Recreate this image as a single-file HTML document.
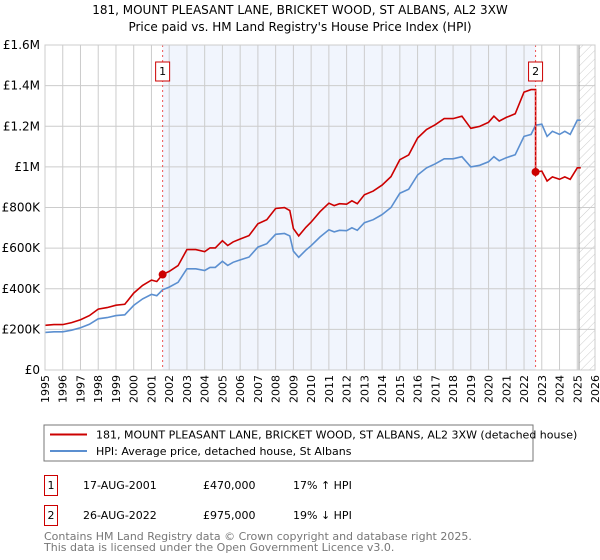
<!DOCTYPE html>
<html><head><meta charset="utf-8"><style>
body{margin:0;background:#fff;font-family:"DejaVu Sans","Liberation Sans",sans-serif;}
#wrap{position:relative;width:600px;height:560px;overflow:hidden;}
svg text{font-family:"DejaVu Sans","Liberation Sans",sans-serif;}
</style></head><body>
<div id="wrap">
<svg id="chart" width="600" height="560" viewBox="0 0 600 560">
<defs><pattern id="hatch" width="6" height="6" patternUnits="userSpaceOnUse" patternTransform="rotate(45)"><line x1="0" y1="0" x2="0" y2="6" stroke="#ccc" stroke-width="1"/></pattern></defs>
<text x="300" y="14" text-anchor="middle" font-size="12" fill="#000">181, MOUNT PLEASANT LANE, BRICKET WOOD, ST ALBANS, AL2 3XW</text>
<text x="300" y="31" text-anchor="middle" font-size="12" fill="#000">Price paid vs. HM Land Registry's House Price Index (HPI)</text>
<g id="plot"></g>
<rect x="44" y="425" width="489" height="36" fill="#fff" stroke="#777"/>
<line x1="50" y1="434.5" x2="87" y2="434.5" stroke="#cc0000" stroke-width="2"/>
<text x="96" y="438.5" font-size="11">181, MOUNT PLEASANT LANE, BRICKET WOOD, ST ALBANS, AL2 3XW (detached house)</text>
<line x1="50" y1="451" x2="87" y2="451" stroke="#5b8fd0" stroke-width="2"/>
<text x="96" y="455" font-size="11">HPI: Average price, detached house, St Albans</text>
<g>
<rect x="44.5" y="475.5" width="13" height="20" fill="#fff" stroke="#cc0000"/>
<text x="51" y="489" font-size="11" text-anchor="middle">1</text>
<text x="83" y="489" font-size="11">17-AUG-2001</text>
<text x="203" y="489" font-size="11">£470,000</text>
<text x="293" y="489" font-size="11">17% ↑ HPI</text></g>
<g>
<rect x="44.5" y="505.5" width="13" height="20" fill="#fff" stroke="#cc0000"/>
<text x="51" y="519" font-size="11" text-anchor="middle">2</text>
<text x="83" y="519" font-size="11">26-AUG-2022</text>
<text x="203" y="519" font-size="11">£975,000</text>
<text x="293" y="519" font-size="11">19% ↓ HPI</text></g>
<text x="44" y="540" font-size="11" fill="#777">Contains HM Land Registry data © Crown copyright and database right 2025.</text>
<text x="44" y="551" font-size="11" fill="#777">This data is licensed under the Open Government Licence v3.0.</text>
</svg></div>
<script>
const hpiYears=[1995,1995.5,1996,1996.5,1997,1997.5,1998,1998.5,1999,1999.5,2000,2000.5,2001,2001.3,2001.63,2002,2002.5,2003,2003.5,2004,2004.3,2004.6,2005,2005.3,2005.6,2006,2006.5,2007,2007.5,2008,2008.5,2008.8,2009,2009.3,2009.7,2010,2010.5,2011,2011.3,2011.6,2012,2012.3,2012.6,2013,2013.5,2014,2014.5,2015,2015.5,2016,2016.5,2017,2017.5,2018,2018.5,2019,2019.5,2020,2020.3,2020.6,2021,2021.5,2022,2022.4,2022.65,2023,2023.3,2023.6,2024,2024.3,2024.6,2025,2025.2];
const hpiValues=[185,188,188,196,208,225,252,258,268,272,318,350,372,366,395,408,432,498,498,490,505,505,535,515,530,542,556,605,622,668,672,660,585,555,590,612,655,690,680,688,686,700,688,725,740,765,800,870,890,960,995,1015,1040,1040,1050,1000,1008,1025,1050,1030,1045,1060,1150,1160,1205,1210,1150,1175,1160,1175,1160,1230,1230];
const saleYears=[2001.63,2022.65];
const saleValues=[470,975];
const yTicks=[0,200,400,600,800,1000,1200,1400,1600];
const yTickLabels=["£0","£200K","£400K","£600K","£800K","£1M","£1.2M","£1.4M","£1.6M"];
const xTicks=[1995,1996,1997,1998,1999,2000,2001,2002,2003,2004,2005,2006,2007,2008,2009,2010,2011,2012,2013,2014,2015,2016,2017,2018,2019,2020,2021,2022,2023,2024,2025,2026];
const X0=45,X1=595,Y0=370,Y1=45;
const xs=y=>X0+(y-1995)/(2026-1995)*(X1-X0);
const ys=v=>Y0-v/1600*(Y0-Y1);
const NS="http://www.w3.org/2000/svg";
const plot=document.getElementById('plot');
function mk(tag,attrs,parent){const e=document.createElementNS(NS,tag);for(const k in attrs)e.setAttribute(k,attrs[k]);(parent||plot).appendChild(e);return e;}
let r=mk('rect',{x:X0,y:Y1,width:X1-X0,height:Y0-Y1,fill:'#fff'});


r=mk('rect',{x:xs(saleYears[0]),y:Y1,width:xs(saleYears[1])-xs(saleYears[0]),height:Y0-Y1,fill:'#eef3fc',opacity:0.8});


r=mk('rect',{x:xs(2025.1),y:Y1,width:X1-xs(2025.1),height:Y0-Y1,fill:'url(#hatch)'});


xTicks.forEach((t,i)=>{
  const l=mk('line',{x1:xs(t),x2:xs(t),y1:Y1,y2:Y0,stroke:'#ccc','stroke-width':1});
  
  
  const tx=mk('text',{x:0,y:0,'font-size':11,'text-anchor':'end',transform:`translate(${xs(t)+4},${Y0+5}) rotate(-90)`});
  tx.textContent=t;
  
  
});
yTicks.forEach((t,i)=>{
  const l=mk('line',{x1:X0,x2:X1,y1:ys(t),y2:ys(t),stroke:'#ccc','stroke-width':1});
  
  
  const tx=mk('text',{x:X0-5,y:ys(t)+4,'font-size':12,'text-anchor':'end'});
  tx.textContent=yTickLabels[i];
  
  
});
let b=mk('line',{x1:xs(2025.1),x2:xs(2025.1),y1:Y1,y2:Y0,stroke:'#999','stroke-width':1});


function hpiAt(y){for(let i=1;i<hpiYears.length;i++){if(y<=hpiYears[i]){const f=(y-hpiYears[i-1])/(hpiYears[i]-hpiYears[i-1]);return hpiValues[i-1]+f*(hpiValues[i]-hpiValues[i-1]);}}return hpiValues[hpiValues.length-1];}
let d=hpiYears.map((y,i)=>(i?'L':'M')+xs(y).toFixed(1)+','+ys(hpiValues[i]).toFixed(1)).join('');
let p=mk('path',{d:d,fill:'none',stroke:'#5b8fd0','stroke-width':1.6});


const f1=saleValues[0]/hpiAt(saleYears[0]),f2=saleValues[1]/hpiAt(saleYears[1]);
let pts=[],lastPre=0;
hpiYears.forEach((y,i)=>{if(y<saleYears[1]){pts.push([y,hpiValues[i]*f1]);lastPre=hpiValues[i];}});
pts.push([saleYears[1],lastPre*f1]);
pts.push([saleYears[1],saleValues[1]]);
hpiYears.forEach((y,i)=>{if(y>saleYears[1])pts.push([y,hpiValues[i]*f2]);});
d=pts.map((q,i)=>(i?'L':'M')+xs(q[0]).toFixed(1)+','+ys(q[1]).toFixed(1)).join('');
p=mk('path',{d:d,fill:'none',stroke:'#cc0000','stroke-width':1.6});


saleYears.forEach((y,i)=>{
  const l=mk('line',{x1:xs(y),x2:xs(y),y1:Y1,y2:Y0,stroke:'#e55','stroke-width':1,'stroke-dasharray':'2,3'});
  
  
  const c=mk('circle',{cx:xs(y),cy:ys(saleValues[i]),r:4,fill:'#cc0000'});
  
  
  const bx=mk('rect',{x:xs(y)-7,y:62,width:14,height:19,fill:'#fff',stroke:'#cc0000'});
  
  
  const t=mk('text',{x:xs(y),y:75,'font-size':11,'text-anchor':'middle'});
  t.textContent=String(i+1);
  
  
});
r=mk('rect',{x:X0,y:Y1,width:X1-X0,height:Y0-Y1,fill:'none',stroke:'#ccc'});


</script>
</body></html>
